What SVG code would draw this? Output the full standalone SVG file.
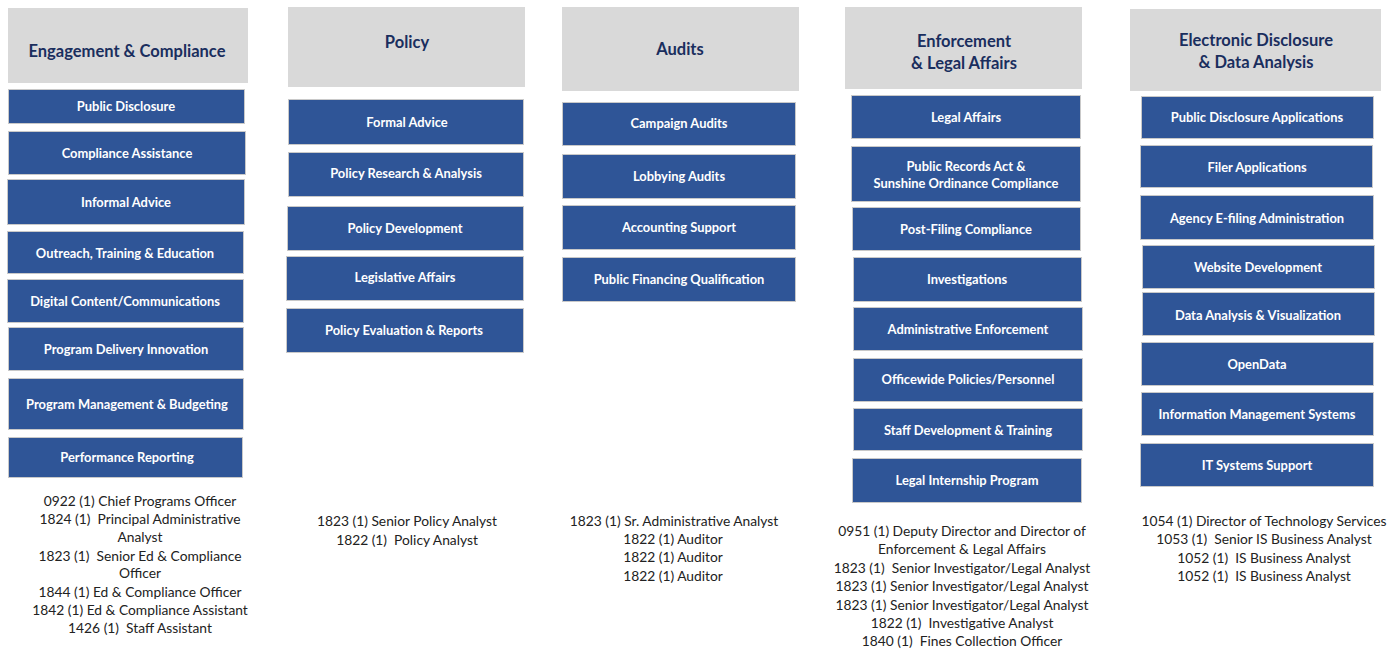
<svg xmlns="http://www.w3.org/2000/svg" width="1398" height="650" viewBox="0 0 1398 650">
  <style>
    .hdr { fill: #d9d9d9; }
    .hdr-t { font-family: Lato, "Open Sans", sans-serif; font-weight: 700; font-size: 16.5px; fill: #1a2e5e; text-anchor: middle; }
    .box { fill: #2f5597; stroke: #c9c9c9; stroke-width: 1; }
    .box-t { font-family: Lato, "Open Sans", sans-serif; font-weight: 700; font-size: 12.9px; fill: #ffffff; text-anchor: middle; }
    .staff { font-family: Lato, "Open Sans", sans-serif; font-size: 13.8px; fill: #222222; text-anchor: middle; white-space: pre; }
  </style>
  <rect width="1398" height="650" fill="#ffffff"/>

  <!-- Engagement & Compliance -->
  <g id="engagement-compliance">
    <rect class="hdr" x="8" y="8" width="240" height="75"/>
    <text class="hdr-t" x="127" y="57">Engagement &amp; Compliance</text>
  </g>
  <g id="ec-public-disclosure"><rect class="box" x="8.5" y="89.5" width="236" height="34"/><text class="box-t" x="126" y="111">Public Disclosure</text></g>
  <g id="ec-compliance-assistance"><rect class="box" x="8.5" y="131.5" width="237" height="43"/><text class="box-t" x="127" y="158">Compliance Assistance</text></g>
  <g id="ec-informal-advice"><rect class="box" x="7.5" y="179.5" width="237" height="45"/><text class="box-t" x="126" y="207">Informal Advice</text></g>
  <g id="ec-outreach"><rect class="box" x="7.5" y="231.5" width="236" height="42"/><text class="box-t" x="125" y="258">Outreach, Training &amp; Education</text></g>
  <g id="ec-digital-content"><rect class="box" x="7.5" y="279.5" width="236" height="43"/><text class="box-t" x="125" y="306">Digital Content/Communications</text></g>
  <g id="ec-program-delivery"><rect class="box" x="8.5" y="327.5" width="235" height="43"/><text class="box-t" x="126" y="354">Program Delivery Innovation</text></g>
  <g id="ec-program-management"><rect class="box" x="8.5" y="378.5" width="235" height="51"/><text class="box-t" x="127" y="409">Program Management &amp; Budgeting</text></g>
  <g id="ec-performance-reporting"><rect class="box" x="8.5" y="437.5" width="234" height="40"/><text class="box-t" x="127" y="462">Performance Reporting</text></g>
  <g id="ec-staff">
    <text class="staff" x="140" y="506">0922 (1) Chief Programs Officer</text>
    <text class="staff" x="140" y="524">1824 (1)  Principal Administrative</text>
    <text class="staff" x="140" y="542">Analyst</text>
    <text class="staff" x="140" y="561">1823 (1)  Senior Ed &amp; Compliance</text>
    <text class="staff" x="140" y="578">Officer</text>
    <text class="staff" x="140" y="597">1844 (1) Ed &amp; Compliance Officer</text>
    <text class="staff" x="140" y="615">1842 (1) Ed &amp; Compliance Assistant</text>
    <text class="staff" x="140" y="633">1426 (1)  Staff Assistant</text>
  </g>

  <!-- Policy -->
  <g id="policy">
    <rect class="hdr" x="288" y="7" width="237" height="80"/>
    <text class="hdr-t" x="407" y="48">Policy</text>
  </g>
  <g id="p-formal-advice"><rect class="box" x="288.5" y="99.5" width="235" height="45"/><text class="box-t" x="407" y="127">Formal Advice</text></g>
  <g id="p-research"><rect class="box" x="288.5" y="152.5" width="235" height="44"/><text class="box-t" x="406" y="178">Policy Research &amp; Analysis</text></g>
  <g id="p-development"><rect class="box" x="287.5" y="206.5" width="236" height="44"/><text class="box-t" x="405" y="233">Policy Development</text></g>
  <g id="p-legislative"><rect class="box" x="286.5" y="256.5" width="237" height="44"/><text class="box-t" x="405" y="282">Legislative Affairs</text></g>
  <g id="p-evaluation"><rect class="box" x="286.5" y="308.5" width="237" height="44"/><text class="box-t" x="404" y="335">Policy Evaluation &amp; Reports</text></g>
  <g id="p-staff">
    <text class="staff" x="407" y="526">1823 (1) Senior Policy Analyst</text>
    <text class="staff" x="407" y="545">1822 (1)  Policy Analyst</text>
  </g>

  <!-- Audits -->
  <g id="audits">
    <rect class="hdr" x="562" y="7" width="237" height="84"/>
    <text class="hdr-t" x="680" y="55">Audits</text>
  </g>
  <g id="a-campaign"><rect class="box" x="562.5" y="102.5" width="233" height="43"/><text class="box-t" x="679" y="128">Campaign Audits</text></g>
  <g id="a-lobbying"><rect class="box" x="562.5" y="154.5" width="233" height="44"/><text class="box-t" x="679" y="181">Lobbying Audits</text></g>
  <g id="a-accounting"><rect class="box" x="562.5" y="205.5" width="233" height="44"/><text class="box-t" x="679" y="232">Accounting Support</text></g>
  <g id="a-public-financing"><rect class="box" x="562.5" y="257.5" width="233" height="44"/><text class="box-t" x="679" y="284">Public Financing Qualification</text></g>
  <g id="a-staff">
    <text class="staff" x="674" y="526">1823 (1) Sr. Administrative Analyst</text>
    <text class="staff" x="673" y="544">1822 (1) Auditor</text>
    <text class="staff" x="673" y="562">1822 (1) Auditor</text>
    <text class="staff" x="673" y="581">1822 (1) Auditor</text>
  </g>

  <!-- Enforcement & Legal Affairs -->
  <g id="enforcement-legal">
    <rect class="hdr" x="845" y="7" width="237" height="82"/>
    <text class="hdr-t" x="964" y="47">Enforcement</text>
    <text class="hdr-t" x="964" y="69">&amp; Legal Affairs</text>
  </g>
  <g id="e-legal-affairs"><rect class="box" x="851.5" y="95.5" width="229" height="43"/><text class="box-t" x="966" y="122">Legal Affairs</text></g>
  <g id="e-public-records"><rect class="box" x="851.5" y="146.5" width="229" height="55"/><text class="box-t" x="966" y="171">Public Records Act &amp;</text><text class="box-t" x="966" y="188">Sunshine Ordinance Compliance</text></g>
  <g id="e-post-filing"><rect class="box" x="852.5" y="207.5" width="228" height="43"/><text class="box-t" x="966" y="234">Post-Filing Compliance</text></g>
  <g id="e-investigations"><rect class="box" x="853.5" y="257.5" width="228" height="44"/><text class="box-t" x="967" y="284">Investigations</text></g>
  <g id="e-administrative"><rect class="box" x="853.5" y="307.5" width="229" height="43"/><text class="box-t" x="968" y="334">Administrative Enforcement</text></g>
  <g id="e-officewide"><rect class="box" x="853.5" y="358.5" width="229" height="43"/><text class="box-t" x="968" y="384">Officewide Policies/Personnel</text></g>
  <g id="e-staff-development"><rect class="box" x="853.5" y="408.5" width="229" height="42"/><text class="box-t" x="968" y="435">Staff Development &amp; Training</text></g>
  <g id="e-internship"><rect class="box" x="852.5" y="458.5" width="229" height="44"/><text class="box-t" x="967" y="485">Legal Internship Program</text></g>
  <g id="e-staff">
    <text class="staff" x="962" y="536">0951 (1) Deputy Director and Director of</text>
    <text class="staff" x="962" y="554">Enforcement &amp; Legal Affairs</text>
    <text class="staff" x="962" y="573">1823 (1)  Senior Investigator/Legal Analyst</text>
    <text class="staff" x="962" y="591">1823 (1) Senior Investigator/Legal Analyst</text>
    <text class="staff" x="962" y="610">1823 (1) Senior Investigator/Legal Analyst</text>
    <text class="staff" x="962" y="628">1822 (1)  Investigative Analyst</text>
    <text class="staff" x="962" y="646">1840 (1)  Fines Collection Officer</text>
  </g>

  <!-- Electronic Disclosure & Data Analysis -->
  <g id="electronic-disclosure">
    <rect class="hdr" x="1130" y="9" width="251" height="82"/>
    <text class="hdr-t" x="1256" y="46">Electronic Disclosure</text>
    <text class="hdr-t" x="1256" y="68">&amp; Data Analysis</text>
  </g>
  <g id="d-public-disclosure-apps"><rect class="box" x="1141.5" y="96.5" width="232" height="42"/><text class="box-t" x="1257" y="122">Public Disclosure Applications</text></g>
  <g id="d-filer-apps"><rect class="box" x="1140.5" y="145.5" width="232" height="42"/><text class="box-t" x="1257" y="172">Filer Applications</text></g>
  <g id="d-agency-efiling"><rect class="box" x="1140.5" y="195.5" width="233" height="44"/><text class="box-t" x="1257" y="223">Agency E-filing Administration</text></g>
  <g id="d-website"><rect class="box" x="1142.5" y="245.5" width="232" height="43"/><text class="box-t" x="1258" y="272">Website Development</text></g>
  <g id="d-data-analysis"><rect class="box" x="1142.5" y="292.5" width="232" height="43"/><text class="box-t" x="1258" y="320">Data Analysis &amp; Visualization</text></g>
  <g id="d-opendata"><rect class="box" x="1141.5" y="342.5" width="232" height="43"/><text class="box-t" x="1257" y="369">OpenData</text></g>
  <g id="d-info-mgmt"><rect class="box" x="1141.5" y="392.5" width="232" height="43"/><text class="box-t" x="1257" y="419">Information Management Systems</text></g>
  <g id="d-it-support"><rect class="box" x="1140.5" y="443.5" width="233" height="43"/><text class="box-t" x="1257" y="470">IT Systems Support</text></g>
  <g id="d-staff">
    <text class="staff" x="1264" y="526">1054 (1) Director of Technology Services</text>
    <text class="staff" x="1264" y="544">1053 (1)  Senior IS Business Analyst</text>
    <text class="staff" x="1264" y="563">1052 (1)  IS Business Analyst</text>
    <text class="staff" x="1264" y="581">1052 (1)  IS Business Analyst</text>
  </g>

  <!-- no connectors in this chart -->
  <g id="connectors"/>
</svg>
